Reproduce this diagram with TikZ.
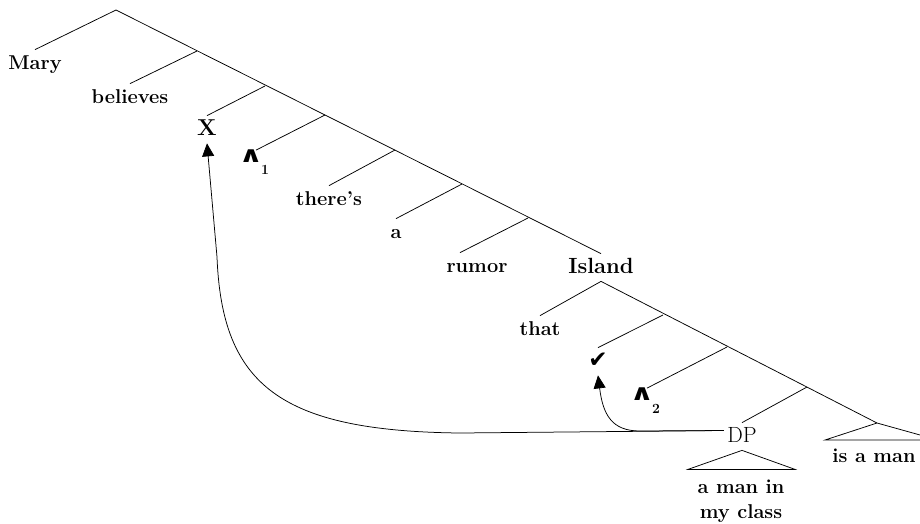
\documentclass[tikz,border=0pt]{standalone}
\usepackage{fontspec}
\newfontfamily\dejavu{DejaVu Sans}
\usetikzlibrary{arrows.meta}
\begin{document}
\begin{tikzpicture}[x=1pt,y=-1pt,line width=0.75pt,
  lab/.style={font=\fontsize{20}{24}\selectfont\bfseries, inner sep=3pt, text height=16pt, text depth=5pt, anchor=base},
  sub/.style={font=\fontsize{14}{14}\selectfont\bfseries, inner sep=0pt, anchor=base},
  wedgelab/.style={font=\dejavu\fontsize{22}{26}\selectfont\bfseries, inner sep=0.5pt, text height=11pt, text depth=0pt, anchor=base},
  br/.style={line width=0.75pt},
  mv/.style={line width=0.75pt, -{Triangle[length=13pt,width=12pt]}}]
\useasboundingbox (0,0) rectangle (920,523);
% labels
\node[lab] (mary) at (35,69) {Mary};
\node[lab] (believes) at (130,103) {believes};
\node[lab, font=\fontsize{23}{26}\selectfont\bfseries] (X) at (207,135) {X};
\node[wedgelab] (h1) at (251,162) {\scalebox{1.35}[1]{∧}};
\node[sub] (h1i) at (265,174) {1};
\node[lab] (theres) at (329,205) {there's};
\node[lab] (a) at (396,238) {a};
\node[lab] (rumor) at (477,272) {rumor};
\node[lab, font=\fontsize{22}{26}\selectfont\bfseries] (island) at (601,273) {Island};
\node[lab] (that) at (540,335) {that};
\node[lab, font=\dejavu\fontsize{23}{26}\selectfont, text height=16pt] (check) at (598,367) {✔};
\node[wedgelab] (h2) at (642,400) {\scalebox{1.35}[1]{∧}};
\node[sub] (h2i) at (656,413) {2};
\node[lab, font=\fontsize{22}{26}\selectfont] (DP) at (742,442) {DP};
\node[lab] (amanin) at (741,493) {a man in};
\node[lab] (myclass) at (741,518) {my class};
\node[lab] (isaman) at (874,462) {is a man};
% spine of upper tree
\coordinate (r) at (116,10);
\coordinate (s2) at (197,51);
\coordinate (s3) at (265,86);
\coordinate (s4) at (325,115);
\coordinate (s5) at (395,150);
\coordinate (s6) at (462,184);
\coordinate (s7) at (528,218);
\draw[br] (r) -- (island.north);
\draw[br] (r) -- (mary.north);
\draw[br] (s2) -- (believes.north);
\draw[br] (s3) -- (X.north);
\draw[br] (s4) -- ([xshift=5pt]h1.north);
\draw[br] (s5) -- (theres.north);
\draw[br] (s6) -- (a.north);
\draw[br] (s7) -- ([xshift=-17pt]rumor.north);
% lower tree
\coordinate (t2) at (663,315);
\coordinate (t3) at (727,347);
\coordinate (t4) at (807,387);
\coordinate (t5) at (877,423);
\draw[br] (island.south) -- (t5);
\draw[br] (island.south) -- (that.north);
\draw[br] (t2) -- (check.north);
\draw[br] (t3) -- ([xshift=5pt]h2.north);
\draw[br] (t4) -- (DP.north);
\draw[br] (t5) -- ++(-52,17) -- ++(113,0) -- cycle;
\draw[br] (DP.south) -- ++(-54,19) -- ++(107,0) -- cycle;
% movement arrows
\draw[mv] ([yshift=6pt]DP.west) -- (460,433) .. controls (280,431) and (222,385) .. (217,257) -- (X.south);
\draw[mv] ([yshift=6pt]DP.west) -- (640,431) .. controls (612,431) and (603,415) .. (check.south);
\end{tikzpicture}
\end{document}
